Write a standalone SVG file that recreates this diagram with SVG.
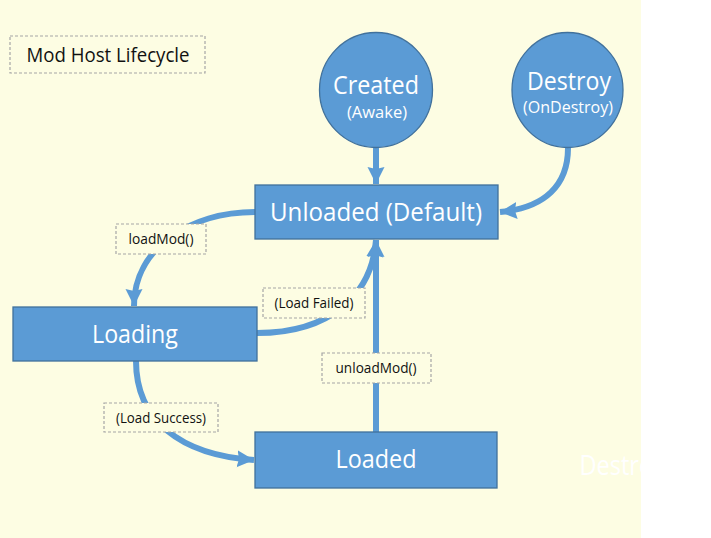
<svg xmlns="http://www.w3.org/2000/svg" width="711" height="538" viewBox="0 0 711 538">
<defs>
<style>
.bg{fill:#FDFDE3}
.node{fill:#5B9BD5;stroke:#41719C;stroke-width:1.3}
.t{font-family:"Open Sans","Liberation Sans",sans-serif;fill:#FFFFFF;text-anchor:middle}
.lbl{fill:#FDFDE3;stroke:#A6A6A6;stroke-width:1.2;stroke-dasharray:3 2}
.lt{font-family:"Open Sans","Liberation Sans",sans-serif;fill:#111111;text-anchor:middle;font-size:15px}
.c{fill:none;stroke:#5B9BD5;stroke-width:6}
</style>
<marker id="ah" markerUnits="userSpaceOnUse" markerWidth="22" markerHeight="22" viewBox="0 0 22 22" refX="17" refY="11" orient="auto">
<path d="M0,2.5 L17,11 L0,19.5 L2,11 Z" fill="#5B9BD5"/>
</marker>
</defs>
<rect x="0" y="0" width="711" height="538" fill="#FFFFFF"/>
<rect class="bg" x="0" y="0" width="641" height="538"/>

<g id="connectors">
<path class="c" d="M376,148 L376,184" marker-end="url(#ah)"/>
<path class="c" d="M568,148 C568,185 545,208 500,212" marker-end="url(#ah)"/>
<path class="c" d="M255,212 C190,212 134,248 134,306" marker-end="url(#ah)"/>
<path class="c" d="M257,333 C330,333 372,295 376,240" marker-end="url(#ah)"/>
<path class="c" d="M376,432 L376,240" marker-end="url(#ah)"/>
<path class="c" d="M136,361 C136,420 180,455 254,460" marker-end="url(#ah)"/>
</g>

<g id="title">
<rect class="lbl" x="10" y="36" width="195" height="37"/>
<text class="lt" x="108" y="62" style="font-size:20px" textLength="163" lengthAdjust="spacingAndGlyphs">Mod Host Lifecycle</text>
</g>

<g id="created">
<ellipse class="node" cx="376" cy="90" rx="56.5" ry="57.5"/>
<text class="t" x="376" y="94" font-size="25" textLength="86" lengthAdjust="spacingAndGlyphs">Created</text>
<text class="t" x="377" y="118" font-size="16" textLength="60" lengthAdjust="spacingAndGlyphs">(Awake)</text>
</g>

<g id="destroy">
<ellipse class="node" cx="567.5" cy="90" rx="55.5" ry="57.5"/>
<text class="t" x="569" y="90" font-size="25" textLength="84" lengthAdjust="spacingAndGlyphs">Destroy</text>
<text class="t" x="568" y="113" font-size="16" textLength="90" lengthAdjust="spacingAndGlyphs">(OnDestroy)</text>
</g>

<g id="unloaded">
<rect class="node" x="255" y="185" width="243" height="54"/>
<text class="t" x="376" y="221" font-size="26" textLength="212" lengthAdjust="spacingAndGlyphs">Unloaded (Default)</text>
</g>

<g id="loading">
<rect class="node" x="13" y="307" width="244" height="54"/>
<text class="t" x="135" y="343" font-size="26" textLength="86" lengthAdjust="spacingAndGlyphs">Loading</text>
</g>

<g id="loaded">
<rect class="node" x="255" y="432" width="242" height="56"/>
<text class="t" x="376" y="468" font-size="25" textLength="81" lengthAdjust="spacingAndGlyphs">Loaded</text>
</g>

<g id="label-loadMod">
<rect class="lbl" x="116" y="224" width="90" height="30"/>
<text class="lt" x="161" y="244" textLength="65" lengthAdjust="spacingAndGlyphs">loadMod()</text>
</g>

<g id="label-loadFailed">
<rect class="lbl" x="263" y="288" width="102" height="30"/>
<text class="lt" x="314" y="308" textLength="79" lengthAdjust="spacingAndGlyphs">(Load Failed)</text>
</g>

<g id="label-unloadMod">
<rect class="lbl" x="322" y="353" width="109" height="30"/>
<text class="lt" x="376" y="373" textLength="81" lengthAdjust="spacingAndGlyphs">unloadMod()</text>
</g>

<g id="label-loadSuccess">
<rect class="lbl" x="104" y="403" width="114" height="29"/>
<text class="lt" x="161" y="423" textLength="90" lengthAdjust="spacingAndGlyphs">(Load Success)</text>
</g>

<g id="destroyed">
<text class="t" x="636" y="475" font-size="28" textLength="113" lengthAdjust="spacingAndGlyphs">Destroyed</text>
</g>
</svg>
